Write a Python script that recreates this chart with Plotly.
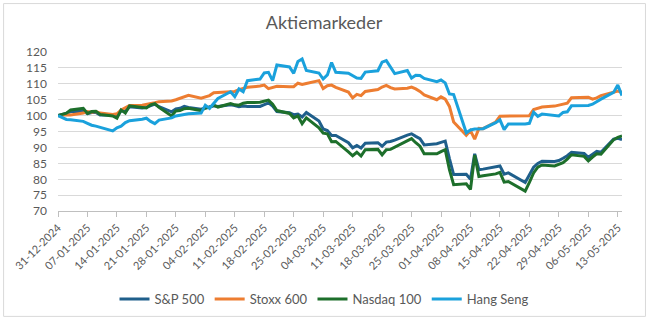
import pandas as pd
import plotly.graph_objects as go

# Trading days (weekdays, all markets closed 1 Jan and Good Friday)
holidays = ["2025-01-01", "2025-04-18"]
dates = [d.strftime("%Y-%m-%d") for d in pd.bdate_range("2024-12-31", "2025-05-14")
         if d.strftime("%Y-%m-%d") not in holidays]

sp500 = [100.0, 100.7, 101.3, 101.4, 100.6, 101.0, 101.0, 100.2, 100.1, 99.7,
         101.6, 101.3, 102.8, 102.4, 102.6, 103.1, 103.6, 102.8, 101.2, 102.1,
         102.3, 102.9, 102.6, 102.0, 102.4, 102.6, 103.1, 102.9, 103.4, 103.2,
         102.8, 103.0, 102.9, 102.9, 103.5, 104.0, 103.0, 101.3, 100.9, 100.3,
         100.5, 99.6, 101.0, 98.3, 95.8, 95.3, 93.8, 93.8, 91.5, 89.9,
         90.6, 89.8, 91.3, 91.5, 90.4, 91.7, 91.9, 92.3, 93.9, 94.3,
         93.5, 92.8, 90.8, 91.2, 91.6, 92.0, 86.5, 81.5, 81.6, 80.0,
         88.0, 83.0, 83.2, 83.8, 84.2, 81.6, 82.0, 79.0, 81.5, 83.8,
         85.0, 85.7, 85.6, 85.9, 86.6, 87.4, 88.5, 88.1, 86.9, 88.0,
         88.8, 88.5, 92.6, 92.9, 92.5]

stoxx600 = [100.0, 100.3, 100.2, 100.8, 101.3, 101.1, 101.3, 100.8, 100.4, 100.6,
            101.8, 102.6, 103.2, 103.3, 103.5, 103.7, 104.1, 104.4, 104.6, 105.0,
            105.5, 106.1, 106.4, 105.5, 105.8, 106.3, 107.2, 107.3, 107.5, 107.6,
            108.2, 108.6, 108.9, 109.3, 109.6, 108.5, 108.8, 109.2, 109.1, 109.1,
            110.2, 109.8, 110.1, 111.0, 108.5, 109.4, 109.6, 108.9, 107.4, 105.6,
            106.7, 106.3, 107.6, 108.2, 109.0, 109.5, 108.8, 108.4, 108.6, 109.0,
            108.4, 107.6, 106.5, 105.0, 105.9, 105.2, 102.9, 98.0, 93.8, 95.3,
            92.6, 96.0, 95.9, 98.0, 99.8, 99.8, 99.9, 100.0, 100.0, 101.9,
            102.3, 102.7, 103.0, 103.3, 103.6, 103.9, 105.6, 105.9, 105.8, 105.2,
            105.6, 106.3, 107.2, 107.7, 107.3]

nasdaq100 = [100.0, 100.8, 101.8, 102.3, 100.7, 101.3, 101.4, 100.4, 99.9, 99.2,
             101.8, 100.8, 103.1, 102.5, 102.4, 103.4, 103.8, 102.6, 99.9, 101.5,
             101.6, 102.2, 102.3, 101.6, 102.4, 102.6, 103.3, 102.7, 103.8, 103.4,
             103.3, 103.9, 104.1, 104.2, 104.5, 104.9, 103.6, 101.6, 100.7, 99.3,
             99.9, 97.5, 99.3, 96.2, 94.5, 94.3, 91.8, 91.9, 88.6, 87.4,
             88.5, 87.3, 89.3, 89.4, 87.7, 89.3, 89.4, 90.1, 92.2, 92.8,
             91.5, 90.4, 88.0, 88.0, 88.7, 89.3, 83.0, 78.3, 78.6, 76.8,
             87.6, 80.9, 81.1, 81.7, 82.2, 79.1, 79.3, 76.3, 79.0, 82.0,
             83.8, 84.5, 84.2, 84.6, 85.2, 86.3, 87.7, 87.2, 85.8, 87.0,
             88.0, 87.9, 92.4, 93.2, 93.6]

hangseng = [100.0, 98.8, 98.7, 98.2, 97.6, 97.0, 96.7, 96.3, 95.2, 96.2,
            96.7, 97.8, 98.4, 98.9, 99.2, 98.2, 97.5, 98.6, 99.3, 99.9,
            100.1, 100.3, 100.6, 100.8, 103.3, 102.3, 103.9, 105.4, 107.5, 106.0,
            108.4, 107.5, 111.0, 111.5, 113.4, 113.6, 111.0, 115.9, 115.3, 113.3,
            117.0, 117.8, 114.2, 113.4, 111.5, 112.8, 116.7, 113.6, 113.3, 112.5,
            111.8, 111.7, 113.7, 114.1, 116.8, 117.3, 115.2, 113.2, 114.2, 111.8,
            112.7, 112.6, 111.7, 110.7, 111.2, 110.3, 106.8, 106.6, 94.6, 95.5,
            95.8, 95.9, 95.9, 97.8, 98.7, 95.6, 97.4, 97.4, 97.6, 101.1,
            99.8, 100.5, 100.0, 99.9, 101.0, 101.2, 103.1, 103.1, 103.2, 103.6,
            104.4, 105.2, 107.3, 109.6, 106.3]

series_names = ["S&P 500", "Stoxx 600", "Nasdaq 100", "Hang Seng"]
series_values = [sp500, stoxx600, nasdaq100, hangseng]
series_colors = ["#1F5F8B", "#ED7D31", "#1D6F2B", "#1AA1DC"]

FONT = "Lato, 'Open Sans', sans-serif"
GREY = "#595959"

fig = go.Figure()
for name, vals, col in zip(series_names, series_values, series_colors):
    fig.add_trace(go.Scatter(x=dates, y=vals, name=name, mode="lines",
                             line=dict(color=col, width=3)))

W, H = 648, 323
ML, MR, MT, MB = 57, 26, 52, 110
pw, ph = W - ML - MR, H - MT - MB

def px_x(p):
    return (p - ML) / pw

def px_y(p):
    return (H - MB - p) / ph

fig.update_layout(
    width=W, height=H,
    margin=dict(l=ML, r=MR, t=MT, b=MB, pad=0),
    paper_bgcolor="white", plot_bgcolor="white",
    font=dict(family=FONT, color=GREY, size=11),
    title=dict(text="Aktiemarkeder", x=0.5, xref="container", xanchor="center",
               y=1 - 23 / H, yref="container", yanchor="middle",
               font=dict(family=FONT, size=18, color=GREY)),
    showlegend=True,
    legend=dict(orientation="h", x=0.5, xref="container", xanchor="center",
                y=1 - 299 / H, yref="container", yanchor="middle",
                font=dict(family=FONT, size=13, color=GREY),
                itemwidth=30, tracegroupgap=0, bgcolor="rgba(0,0,0,0)"),
    xaxis=dict(type="date", range=["2024-12-31", "2025-05-14"],
               tick0="2024-12-31", dtick=7 * 86400000, tickformat="%d-%m-%Y",
               tickangle=-45, ticks="outside", ticklen=5, tickcolor="#BFBFBF",
               showline=True, linecolor="#BFBFBF", linewidth=1,
               showgrid=False, zeroline=False,
               tickfont=dict(family=FONT, size=11, color=GREY)),
    yaxis=dict(range=[70, 120], dtick=5, tick0=70, showgrid=True,
               gridcolor="#D9D9D9", gridwidth=1, zeroline=False,
               showline=False, ticks="", ticklabelstandoff=10,
               tickfont=dict(family=FONT, size=12, color=GREY)),
    shapes=[dict(type="rect", xref="paper", yref="paper",
                 x0=px_x(2.5), x1=px_x(645.5), y0=px_y(319.5), y1=px_y(3.0),
                 line=dict(color="#D9D9D9", width=1), fillcolor="rgba(0,0,0,0)",
                 layer="below")],
)

fig.write_html("out.html")
